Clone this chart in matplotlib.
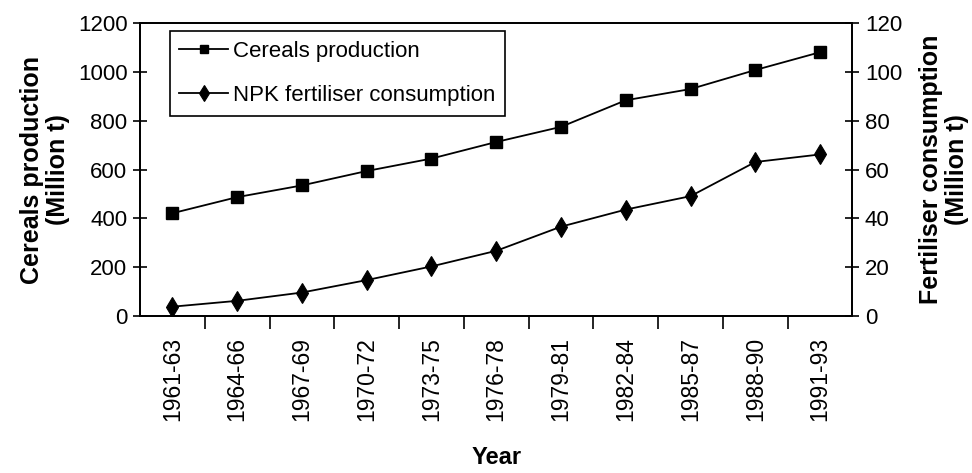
import matplotlib
matplotlib.use("Agg")
import matplotlib.pyplot as plt
import numpy as np


# Data

years = ["1961-63", "1964-66", "1967-69", "1970-72", "1973-75", "1976-78",
         "1979-81", "1982-84", "1985-87", "1988-90", "1991-93"]
cereals = [421, 487, 535, 594, 645, 713, 775, 884, 930, 1008, 1081]
npk = [3.8, 6.2, 9.6, 14.7, 20.3, 26.7, 36.6, 43.6, 49.1, 63.1, 66.2]

FONT = ["Liberation Sans", "DejaVu Sans"]

fig = plt.figure(figsize=(9.72, 4.73), dpi=100)
ax = fig.add_axes([0.144, 0.332, 0.733, 0.619])
ax2 = ax.twinx()

x = np.arange(len(years))

l1, = ax.plot(x, cereals, color="black", lw=1.3, marker="s", markersize=8,
              label="Cereals production")
l2, = ax2.plot(x, npk, color="black", lw=1.3, marker="d", markersize=10,
               markeredgewidth=0.8, label="NPK fertiliser consumption")

ax.set_xlim(-0.5, len(years) - 0.5)
ax.set_ylim(0, 1200)
ax2.set_ylim(0, 120)
ax.set_yticks(range(0, 1201, 200))
ax2.set_yticks(range(0, 121, 20))

ax.set_xticks(x)
ax.set_xticklabels(years, rotation=90, fontsize=16.5, family=FONT)
ax.set_xticks(x[:-1] + 0.5, minor=True)
ax.tick_params(axis="x", which="major", length=0, pad=15)
ax.tick_params(axis="x", which="minor", direction="out", length=9, width=1.2)

ax.tick_params(axis="y", direction="inout", length=10, width=1.2, pad=4)
ax2.tick_params(axis="y", direction="inout", length=10, width=1.2, pad=4)
for lab in ax.get_yticklabels() + ax2.get_yticklabels():
    lab.set_family(FONT)
    lab.set_fontsize(16)

for a in (ax, ax2):
    for s in a.spines.values():
        s.set_linewidth(1.3)
        s.set_color("black")

ax.set_ylabel("Cereals production\n(Million t)", fontsize=18, fontweight="bold",
              family=FONT, linespacing=1.1, labelpad=6)
ax2.set_ylabel("Fertiliser consumption\n(Million t)", fontsize=18,
               fontweight="bold", family=FONT, linespacing=1.1,
               rotation=90, labelpad=12)
ax.set_xlabel("Year", fontsize=17, fontweight="bold", family=FONT)
ax.xaxis.set_label_coords(0.5, -0.444)

leg = ax.legend([l1, l2], ["Cereals production", "NPK fertiliser consumption"],
                loc="upper left", bbox_to_anchor=(0.042, 0.973),
                borderaxespad=0, prop={"family": FONT, "size": 16},
                frameon=True, fancybox=False, framealpha=1,
                edgecolor="black", handlelength=2.2, handletextpad=0.2,
                borderpad=0.43, labelspacing=1.05, markerscale=0.8)
leg.get_frame().set_linewidth(1.2)

plt.savefig("out.png", dpi=100)
